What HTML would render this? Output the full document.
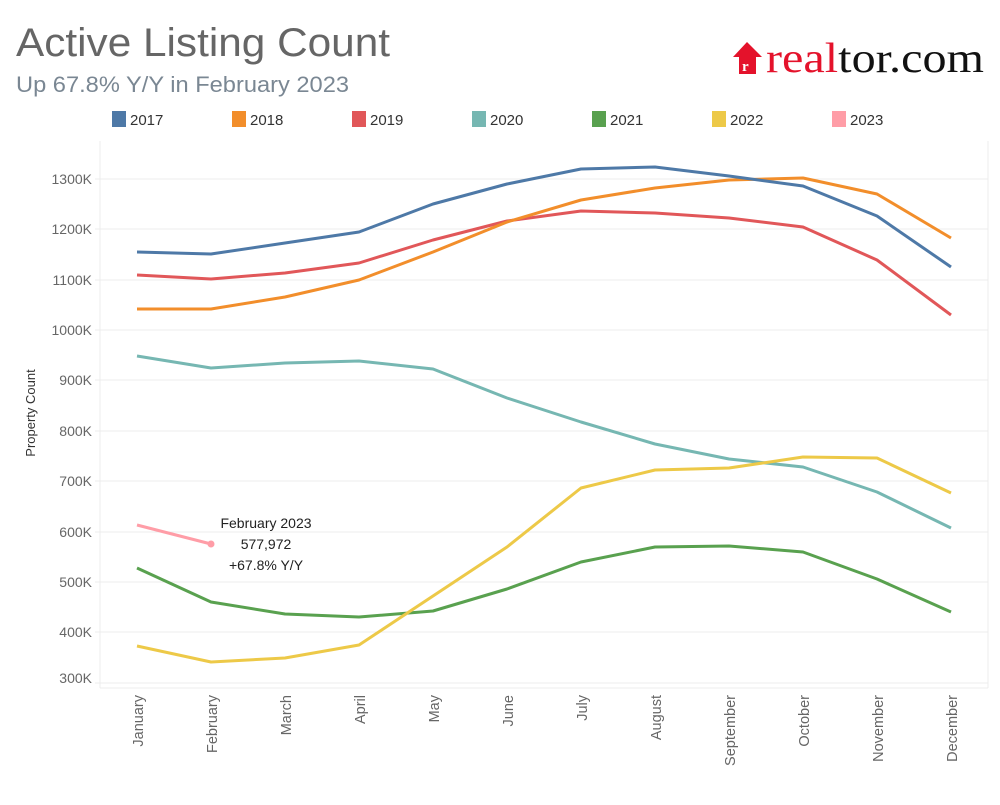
<!DOCTYPE html>
<html><head><meta charset="utf-8"><style>
body{margin:0;background:#fff;width:1000px;height:800px;overflow:hidden;font-family:"Liberation Sans",sans-serif}
</style></head><body>
<svg width="1000" height="800" xmlns="http://www.w3.org/2000/svg" font-family="Liberation Sans, sans-serif">
<text x="16" y="56" font-size="40" fill="#666" textLength="374" lengthAdjust="spacingAndGlyphs">Active Listing Count</text>
<text x="16" y="92" font-size="22" fill="#7a8793" textLength="333" lengthAdjust="spacingAndGlyphs">Up 67.8% Y/Y in February 2023</text>
<g font-size="15" fill="#333">
<rect x="112" y="111" width="14" height="16" fill="#4e79a7"/><text x="130" y="125">2017</text>
<rect x="232" y="111" width="14" height="16" fill="#f28e2b"/><text x="250" y="125">2018</text>
<rect x="352" y="111" width="14" height="16" fill="#e15759"/><text x="370" y="125">2019</text>
<rect x="472" y="111" width="14" height="16" fill="#76b7b2"/><text x="490" y="125">2020</text>
<rect x="592" y="111" width="14" height="16" fill="#59a14f"/><text x="610" y="125">2021</text>
<rect x="712" y="111" width="14" height="16" fill="#edc948"/><text x="730" y="125">2022</text>
<rect x="832" y="111" width="14" height="16" fill="#ff9da7"/><text x="850" y="125">2023</text>
</g>
<!-- logo -->
<path d="M747 42 L733 57 L739 57 L739 74 L756 74 L756 57 L762 57 Z" fill="#e4122b"/>
<text x="742" y="71" font-size="15" fill="#fff" font-family="Liberation Serif,serif" font-weight="bold">r</text>
<text x="766" y="72" font-size="42" font-family="Liberation Serif,serif" textLength="218" lengthAdjust="spacingAndGlyphs"><tspan fill="#e4122b">real</tspan><tspan fill="#111">tor.com</tspan></text>
<!-- grid -->
<g stroke="#ececec" stroke-width="1">
<line x1="100" y1="141" x2="100" y2="688"/>
<line x1="100" y1="688" x2="988" y2="688"/>
<line x1="988" y1="141" x2="988" y2="688"/>
<line x1="95" y1="179" x2="988" y2="179"/><line x1="95" y1="229" x2="988" y2="229"/>
<line x1="95" y1="280" x2="988" y2="280"/><line x1="95" y1="330" x2="988" y2="330"/>
<line x1="95" y1="380" x2="988" y2="380"/><line x1="95" y1="431" x2="988" y2="431"/>
<line x1="95" y1="481" x2="988" y2="481"/><line x1="95" y1="532" x2="988" y2="532"/>
<line x1="95" y1="582" x2="988" y2="582"/><line x1="95" y1="632" x2="988" y2="632"/>
<line x1="95" y1="683" x2="988" y2="683"/>
</g>
<g font-size="14" fill="#666" text-anchor="end">
<text x="92" y="184">1300K</text><text x="92" y="234">1200K</text><text x="92" y="285">1100K</text>
<text x="92" y="335">1000K</text><text x="92" y="385">900K</text><text x="92" y="436">800K</text>
<text x="92" y="486">700K</text><text x="92" y="537">600K</text><text x="92" y="587">500K</text>
<text x="92" y="637">400K</text><text x="92" y="683">300K</text>
</g>
<text transform="translate(35,413) rotate(-90)" font-size="13" fill="#333" text-anchor="middle">Property Count</text>
<g font-size="14.5" fill="#666" text-anchor="end">
<text transform="translate(143,695) rotate(-90)">January</text>
<text transform="translate(217,695) rotate(-90)">February</text>
<text transform="translate(291,695) rotate(-90)">March</text>
<text transform="translate(365,695) rotate(-90)">April</text>
<text transform="translate(439,695) rotate(-90)">May</text>
<text transform="translate(513,695) rotate(-90)">June</text>
<text transform="translate(587,695) rotate(-90)">July</text>
<text transform="translate(661,695) rotate(-90)">August</text>
<text transform="translate(735,695) rotate(-90)">September</text>
<text transform="translate(809,695) rotate(-90)">October</text>
<text transform="translate(883,695) rotate(-90)">November</text>
<text transform="translate(957,695) rotate(-90)">December</text>
</g>
<g fill="none" stroke-width="3" stroke-linejoin="round">
<polyline stroke="#76b7b2" points="137,356 211,368 285,363 359,361 433,369 507,398 581,422 655,444 729,459 803,467 877,492 951,528"/>
<polyline stroke="#59a14f" points="137,568 211,602 285,614 359,617 433,611 507,589 581,562 655,547 729,546 803,552 877,579 951,612"/>
<polyline stroke="#edc948" points="137,646 211,662 285,658 359,645 433,596 507,547 581,488 655,470 729,468 803,457 877,458 951,493"/>
<polyline stroke="#e15759" points="137,275 211,279 285,273 359,263 433,240 507,221 581,211 655,213 729,218 803,227 877,260 951,315"/>
<polyline stroke="#f28e2b" points="137,309 211,309 285,297 359,280 433,252 507,222 581,200 655,188 729,180 803,178 877,194 951,238"/>
<polyline stroke="#4e79a7" points="137,252 211,254 285,243 359,232 433,204 507,184 581,169 655,167 729,176 803,186 877,216 951,267"/>
<polyline stroke="#ff9da7" points="137,525 211,544"/>
</g>
<circle cx="211" cy="544" r="3.5" fill="#ff9da7"/>
<g font-size="14" fill="#222" text-anchor="middle">
<text x="266" y="528">February 2023</text>
<text x="266" y="549">577,972</text>
<text x="266" y="570">+67.8% Y/Y</text>
</g>
</svg>
</body></html>
